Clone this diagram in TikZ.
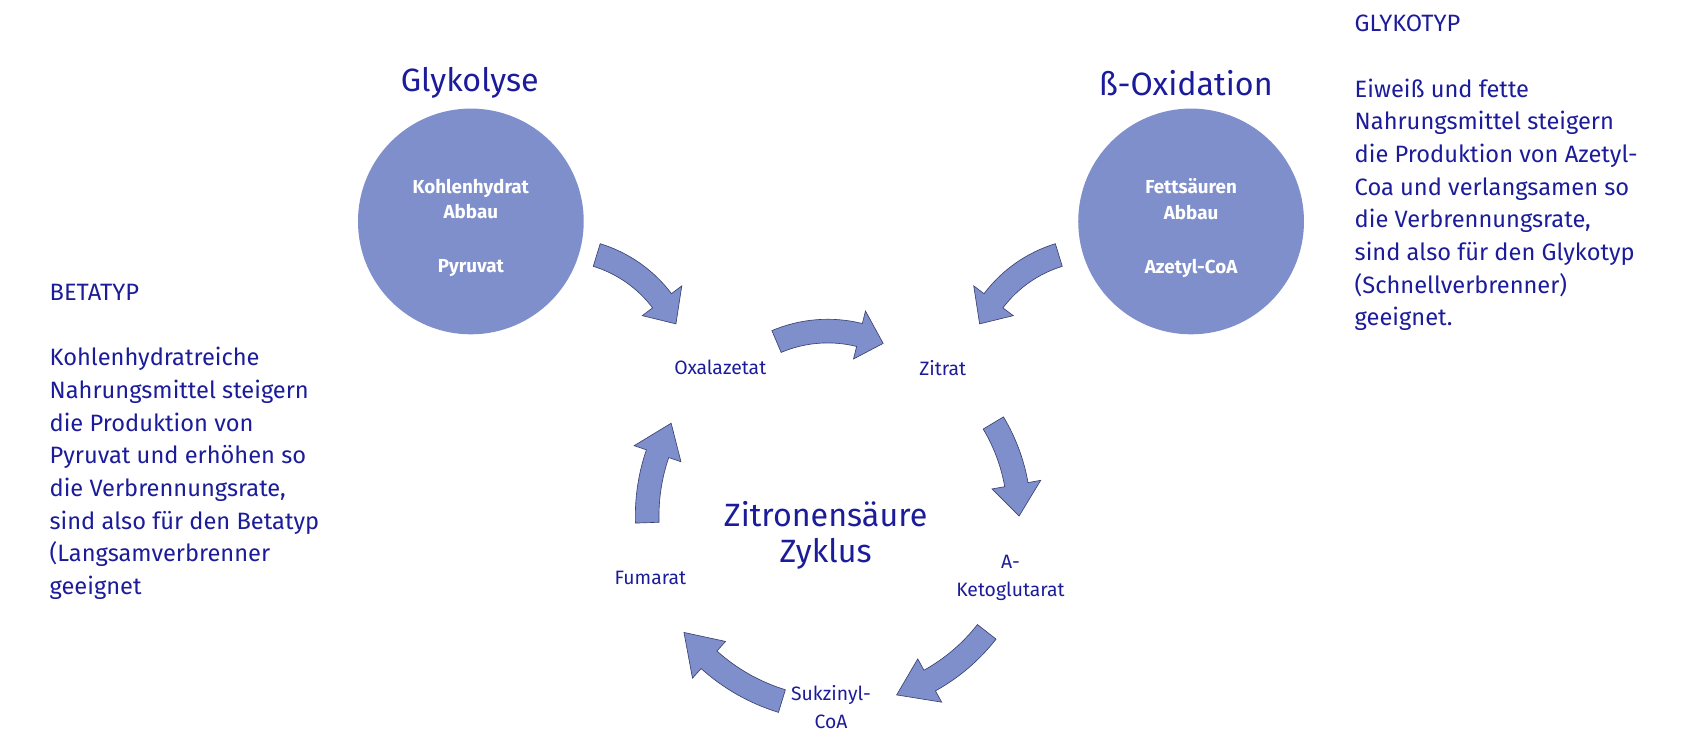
\documentclass[tikz,border=0pt]{standalone}
\usepackage{fontspec}
\setmainfont{Fira Sans}
\definecolor{txt}{HTML}{1C1C9A}
\definecolor{fillb}{HTML}{7F8FCB}
\definecolor{edge}{HTML}{3A4270}
\newcommand\carrow[6]{%
\draw[arr] ([shift={(#1,#2)}]#4:{#3pt+11pt}) arc[start angle=#4,end angle=#5,radius={#3pt+11pt}]
 -- ([shift={(#1,#2)}]#5:{#3pt+23pt}) -- ([shift={(#1,#2)}]#6:{#3pt})
 -- ([shift={(#1,#2)}]#5:{#3pt-23pt}) -- ([shift={(#1,#2)}]#5:{#3pt-11pt})
 arc[start angle=#5,end angle=#4,radius={#3pt-11pt}] -- cycle;}
\begin{document}
\begin{tikzpicture}[x=1pt,y=1pt,
 arr/.style={fill=fillb,draw=edge,line width=0.6pt,line join=miter},
 title/.style={text=txt,font=\fontsize{30}{33}\selectfont,align=center},
 lab/.style={text=txt,font=\fontsize{18}{26}\selectfont,align=center},
 body/.style={text=txt,font=\fontsize{22}{30.4}\selectfont,align=left,anchor=north west,inner sep=0},
 circ/.style={circle,fill=fillb,minimum size=210pt,text=white,font=\bfseries\fontsize{17.5}{24}\selectfont,align=center}]
\useasboundingbox (0,0) rectangle (1688,742);
\begin{scope}[transform canvas={cm={1.075,0,0,1.075,(0pt,-55.65pt)}}]
\node[circ] (c1) at (438,536) {};
\node[circ] (c2) at (1108,536) {};
\node[text=white,font=\bfseries\fontsize{17.5}{24}\selectfont,align=center] (c1t) at (438,530) {Kohlenhydrat\\Abbau\\[26pt]Pyruvat};
\node[text=white,font=\bfseries\fontsize{17.5}{24}\selectfont,align=center] (c2t) at (1108,530) {Fettsäuren\\Abbau\\[26pt]Azetyl-CoA};
\node[title] (t1) at (437,665) {Glykolyse};
\node[title] (t2) at (1103,665) {ß-Oxidation};
\node[title] (zz) at (768,244) {Zitronensäure\\Zyklus};
\node[lab] (ox) at (670,400) {Oxalazetat};
\node[lab] (zi) at (877,400) {Zitrat};
\node[lab] (ak) at (940,204) {A-\\Ketoglutarat};
\node[lab] (fu) at (605,204) {Fumarat};
\node[lab] (sc) at (773,84) {Sukzinyl-\\CoA};
\node[body] (bt) at (46,728-250) {BETATYP\\[30.4pt]Kohlenhydratreiche\\Nahrungsmittel steigern\\die Produktion von\\Pyruvat und erhöhen so\\die Verbrennungsrate,\\sind also für den Betatyp\\(Langsamverbrenner\\geeignet};
\node[body] (gt) at (1260,728) {GLYKOTYP\\[30.4pt]Eiweiß und fette\\Nahrungsmittel steigern\\die Produktion von Azetyl-\\Coa und verlangsamen so\\die Verbrennungsrate,\\sind also für den Glykotyp\\(Schnellverbrenner)\\geeignet.};
\carrow{520}{390}{120}{73}{37}{25}
\carrow{770}{312}{122}{113}{76}{65}
\carrow{1020}{390}{120}{107}{143}{155}
\carrow{780}{262}{168}{31}{10}{0}
\carrow{780}{262}{175}{-38}{-61}{-72}
\carrow{780}{262}{180}{-107}{-132}{-143}
\carrow{780}{262}{178}{182}{161}{151}
\end{scope}
\end{tikzpicture}
\end{document}
